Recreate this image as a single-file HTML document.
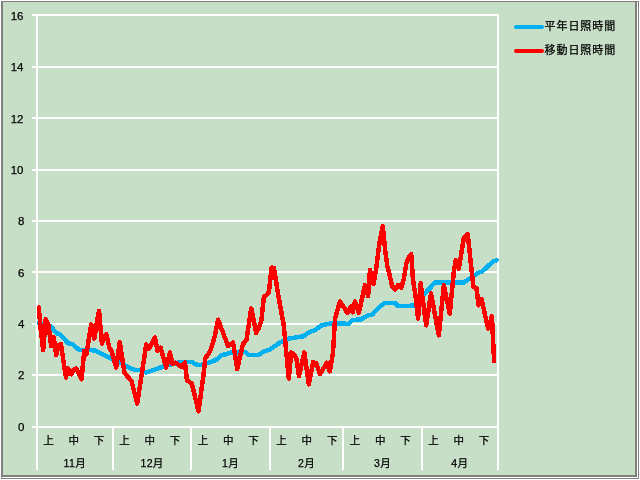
<!DOCTYPE html>
<html lang="ja">
<head>
<meta charset="utf-8">
<title>日照時間</title>
<style>
html,body{margin:0;padding:0;background:#fff;}
body{width:640px;height:480px;overflow:hidden;position:relative;font-family:"Liberation Sans","Noto Sans CJK JP",sans-serif;}
#outer{position:absolute;left:1px;top:1px;width:636px;height:476px;border:1px solid #808080;background:#fff;}
#chart{position:absolute;left:2px;top:1px;width:632px;height:473px;background:#c7dfc7;border-left:1px solid #808080;border-right:2px solid #808080;border-bottom:2px solid #808080;border-top:1px solid #808080;box-sizing:content-box;}
svg{position:absolute;left:0;top:0;}
.yl{font-size:11.5px;fill:#000;text-anchor:end;stroke:#000;stroke-width:0.25px;}
.xl{font-size:10.5px;fill:#000;text-anchor:middle;stroke:#000;stroke-width:0.25px;}
.ml{letter-spacing:0.4px;}
.lg{font-size:11px;letter-spacing:0.95px;fill:#000;stroke:#000;stroke-width:0.25px;}
</style>
</head>
<body>
<div id="outer"></div>
<div id="chart"></div>
<svg width="640" height="480" viewBox="0 0 640 480">
<g id="grid" fill="#fff" shape-rendering="crispEdges">
<rect x="32" y="14" width="467" height="2"/>
<rect x="32" y="66" width="467" height="2"/>
<rect x="32" y="117" width="467" height="2"/>
<rect x="32" y="169" width="467" height="2"/>
<rect x="32" y="220" width="467" height="2"/>
<rect x="32" y="271" width="467" height="2"/>
<rect x="32" y="323" width="467" height="2"/>
<rect x="32" y="374" width="467" height="2"/>
<rect x="32" y="426" width="467" height="2"/>
<rect x="36" y="14" width="2" height="456"/>
</g>
<g id="ylabels" class="yl">
<text x="23.5" y="20">16</text>
<text x="23.5" y="71">14</text>
<text x="23.5" y="123">12</text>
<text x="23.5" y="174">10</text>
<text x="24.5" y="225">8</text>
<text x="24.5" y="276.5">6</text>
<text x="24.5" y="328">4</text>
<text x="24.5" y="379">2</text>
<text x="24.5" y="431">0</text>
</g>
<g id="seps" fill="#fff" shape-rendering="crispEdges">
<rect x="112" y="428" width="2" height="42"/>
<rect x="190" y="428" width="2" height="42"/>
<rect x="269" y="428" width="2" height="42"/>
<rect x="342" y="428" width="2" height="42"/>
<rect x="421" y="428" width="2" height="42"/>
<rect x="497" y="14" width="2" height="456"/>
</g>
<g id="series" shape-rendering="crispEdges" fill="none" stroke-width="4.5" stroke-linejoin="round" stroke-linecap="round">
<polyline id="blue" stroke="#00b0f0" points="39.0,323.3 50.6,326.2 56.2,333.0 60.0,334.4 68.0,343.0 72.5,344.4 79.4,350.0 90.0,350.0 95.0,350.6 101.2,353.8 110.0,358.0 120.0,362.5 130.0,368.0 135.0,370.0 141.0,370.0 146.0,372.5 155.0,369.4 165.0,366.0 180.0,362.0 192.0,362.0 196.2,364.6 201.0,365.0 207.5,363.0 216.0,360.0 221.0,355.6 231.0,352.5 245.0,352.0 248.8,355.0 258.8,355.0 262.5,352.0 270.0,349.4 280.0,342.5 287.5,338.8 303.8,336.2 307.5,333.0 315.0,330.0 321.2,325.6 330.0,323.5 348.8,323.8 352.5,320.0 361.0,319.4 367.5,315.6 372.5,314.4 380.0,306.2 385.0,303.0 395.0,303.0 398.0,306.2 413.8,305.6 435.0,282.5 463.8,282.5 478.8,272.5 482.5,271.2 492.5,261.9 496.8,260.0"/>
<polyline id="red" stroke="#ff0000" points="38.8,307.5 40.8,330.0 43.2,350.0 45.7,319.0 48.5,325.0 51.1,346.0 53.7,337.0 56.2,355.0 58.7,345.0 61.0,344.0 63.6,362.0 66.0,377.4 68.0,368.3 71.2,374.3 73.8,370.0 76.0,368.3 79.0,374.0 81.5,379.3 84.3,350.8 86.4,354.3 89.0,338.0 91.2,324.5 94.4,338.6 96.9,322.0 99.1,311.0 101.9,343.6 104.3,337.0 106.2,334.2 109.5,348.0 111.5,351.0 116.2,367.4 119.8,342.2 124.5,373.0 131.5,381.0 137.2,403.6 143.0,366.0 146.2,344.5 148.8,349.0 155.0,337.6 157.5,351.0 160.6,347.6 166.2,367.4 170.0,352.6 172.5,364.2 175.6,362.6 181.2,366.8 185.0,362.6 186.9,380.0 191.9,383.8 198.5,411.3 203.5,375.0 205.3,358.0 208.5,354.0 211.7,347.0 215.3,334.0 218.1,319.7 228.1,346.0 233.1,342.6 237.2,369.0 243.0,344.0 246.5,340.0 251.2,308.4 256.2,333.0 258.8,328.0 261.3,321.0 263.9,297.0 266.4,295.0 269.0,292.0 271.5,267.5 274.0,268.0 277.7,292.0 283.7,325.0 288.8,378.5 291.2,352.4 293.8,354.5 296.2,357.5 299.0,376.0 301.7,364.0 304.4,352.4 308.8,384.3 313.1,362.2 316.0,363.0 320.0,374.0 326.9,362.7 329.8,371.3 333.0,352.5 335.0,318.8 340.0,301.5 347.5,313.0 351.0,306.5 352.7,312.3 355.0,301.5 358.8,313.0 365.0,285.2 368.1,296.0 370.0,270.2 373.4,284.2 376.3,268.0 378.2,252.0 380.3,238.0 382.8,226.3 385.3,251.0 387.3,266.0 389.2,273.0 392.0,286.0 394.8,289.4 398.1,285.0 401.2,288.0 403.8,279.0 406.3,264.0 408.8,257.0 411.2,254.3 413.0,280.0 415.6,296.0 418.1,318.5 420.6,283.4 426.2,325.3 431.0,293.4 438.8,335.3 443.8,285.3 449.8,313.5 453.8,272.0 455.6,260.3 458.8,269.0 463.8,238.0 467.8,234.3 470.2,257.5 473.5,287.0 476.5,288.0 478.5,305.4 481.5,299.0 488.1,328.5 491.9,316.2 494.1,361.0"/>
</g>
<g id="xlabels" class="xl">
<text x="48.5" y="444">上</text>
<text x="73.8" y="444">中</text>
<text x="99.1" y="444">下</text>
<text class="ml" x="74.8" y="466.5">11月</text>
<text x="124.5" y="444">上</text>
<text x="149.8" y="444">中</text>
<text x="175.1" y="444">下</text>
<text class="ml" x="152.1" y="466.5">12月</text>
<text x="203.0" y="444">上</text>
<text x="228.3" y="444">中</text>
<text x="253.6" y="444">下</text>
<text class="ml" x="230.6" y="466.5">1月</text>
<text x="281.5" y="444">上</text>
<text x="306.8" y="444">中</text>
<text x="332.2" y="444">下</text>
<text class="ml" x="306.6" y="466.5">2月</text>
<text x="355.0" y="444">上</text>
<text x="380.3" y="444">中</text>
<text x="405.6" y="444">下</text>
<text class="ml" x="382.6" y="466.5">3月</text>
<text x="433.5" y="444">上</text>
<text x="458.8" y="444">中</text>
<text x="484.1" y="444">下</text>
<text class="ml" x="459.8" y="466.5">4月</text>
</g>
<g id="legend">
<line x1="516" y1="27" x2="542" y2="27" stroke="#00b0f0" stroke-width="4" stroke-linecap="round"/>
<line x1="516" y1="51" x2="542" y2="51" stroke="#ff0000" stroke-width="4" stroke-linecap="round"/>
<text class="lg" x="544.5" y="30">平年日照時間</text>
<text class="lg" x="544.5" y="53.5">移動日照時間</text>
</g>
</svg>
</body>
</html>
